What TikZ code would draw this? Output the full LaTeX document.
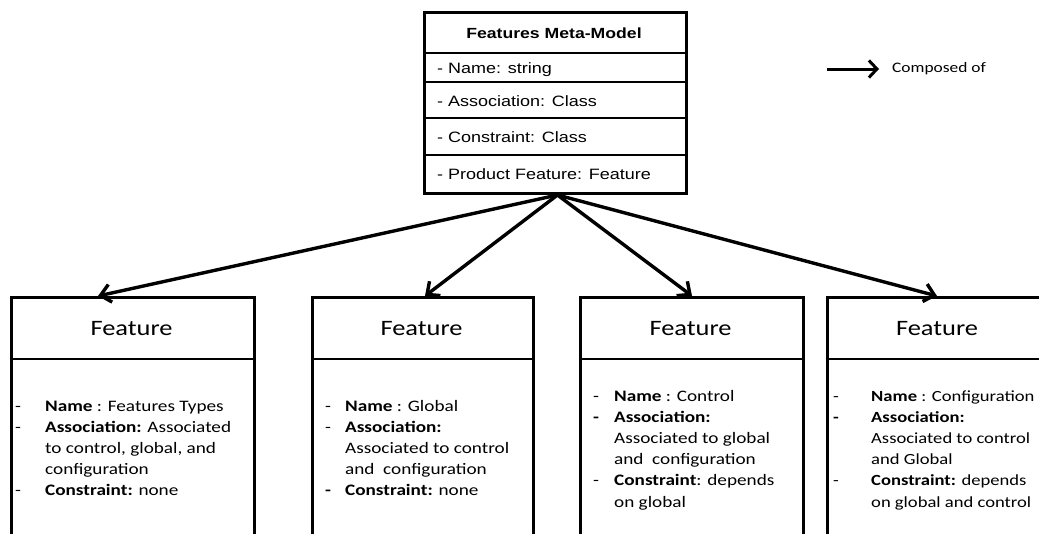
\documentclass[tikz,border=0pt]{standalone}
\usepackage{fontspec}
\usetikzlibrary{arrows.meta,calc}
\newfontfamily\calfont[FakeStretch=1.2]{Carlito}
\newfontfamily\arialfont[FakeStretch=1.2]{Liberation Sans}
\tikzset{
  box/.style={draw=black, line width=3pt, fill=white, inner sep=0pt, anchor=north west},
  divider/.style={line width=2.6pt},
  arr/.style={line width=3.4pt, -{Straight Barb[length=10pt,width=18pt,line width=3.4pt]}},
  legarr/.style={line width=3pt, -{Straight Barb[length=8pt,width=17pt,line width=3pt]}},
  metatitle/.style={font=\arialfont\bfseries\fontsize{14.7}{17}\selectfont, inner sep=0pt, anchor=base},
  metarow/.style={font=\arialfont\fontsize{15}{17}\selectfont, inner sep=0pt, anchor=base west},
  ftitle/.style={font=\calfont\fontsize{22}{25}\selectfont, inner sep=0pt, anchor=base},
  flist/.style={font=\calfont\fontsize{16}{21.2}\selectfont, inner sep=0pt, anchor=base west, align=left},
  legtext/.style={font=\calfont\fontsize{14.5}{17}\selectfont, inner sep=0pt, anchor=west}
}
\begin{document}
\begin{tikzpicture}[x=1pt,y=-1pt]
\clip (0,0) rectangle (1039,533);
\fill[white] (0,0) rectangle (1039,533);

% meta model box
\node[box, minimum width=262pt, minimum height=181pt] (meta) at (423,11) {};
\draw[divider] (meta.west |- 0,53) -- (meta.east |- 0,53);
\draw[divider] (meta.west |- 0,82) -- (meta.east |- 0,82);
\draw[divider] (meta.west |- 0,118) -- (meta.east |- 0,118);
\draw[divider] (meta.west |- 0,155) -- (meta.east |- 0,155);
\node[metatitle] (mt) at (554,38) {Features Meta-Model};
\node[metarow] (r1) at (437,73) {- Name: string};
\node[metarow] (r2) at (437,106) {- Association: Class};
\node[metarow] (r3) at (437,142) {- Constraint: Class};
\node[metarow] (r4) at (437,179) {- Product Feature: Feature};

% legend
\coordinate (la) at (827,69);
\coordinate (lb) at (879,69);
\draw[legarr] (la) -- (lb);
\node[legtext] (leg) at (892,69) {Composed of};

% feature boxes
\node[box, minimum width=243pt, minimum height=260pt] (f1) at (10,296) {};
\node[box, minimum width=221pt, minimum height=260pt] (f2) at (311,296) {};
\node[box, minimum width=223pt, minimum height=260pt] (f3) at (579,296) {};
\node[box, minimum width=240pt, minimum height=260pt] (f4) at (826,296) {};
\foreach \f in {f1,f2,f3,f4}{
  \draw[divider] (\f.north west |- 0,359) -- (\f.north east |- 0,359);
}
\node[ftitle] (t1) at (131.5,335) {Feature};
\node[ftitle] (t2) at (421.5,335) {Feature};
\node[ftitle] (t3) at (690.5,335) {Feature};
\node[ftitle] (t4) at (937,335) {Feature};

\node[flist] (l1) at (15,411) {\begin{tabular}[t]{@{}p{30pt}@{}l@{}}
-&\textbf{Name} : Features Types\\
-&\textbf{Association:} Associated\\
&to control, global, and\\
&configuration\\
-&\textbf{Constraint:} none
\end{tabular}};
\node[flist] (l2) at (325,411) {\begin{tabular}[t]{@{}p{20pt}@{}l@{}}
-&\textbf{Name} : Global\\
-&\textbf{Association:}\\
&Associated to control\\
&and\ \ configuration\\
\textbf{-}&\textbf{Constraint:} none
\end{tabular}};
\node[flist] (l3) at (593,401) {\begin{tabular}[t]{@{}p{21pt}@{}l@{}}
-&\textbf{Name} : Control\\
\textbf{-}&\textbf{Association:}\\
&Associated to global\\
&and\ \ configuration\\
-&\textbf{Constraint}: depends\\
&on global
\end{tabular}};
\node[flist,font=\calfont\fontsize{15.5}{21.2}\selectfont] (l4) at (833,401) {\begin{tabular}[t]{@{}p{38pt}@{}l@{}}
-&\textbf{Name} : Configuration\\
\textbf{-}&\textbf{Association:}\\
&Associated to control\\
&and Global\\
-&\textbf{Constraint:} depends\\
&on global and control
\end{tabular}};

% arrows
\coordinate (apex) at ($(meta.south)+(2,0)$);
\draw[arr] (apex) -- ($(f1.north west)+(88,0)$);
\draw[arr] (apex) -- ($(f2.north west)+(114,0)$);
\draw[arr] (apex) -- (f3.north);
\draw[arr] (apex) -- ($(f4.north west)+(111,0)$);
\end{tikzpicture}
\end{document}
